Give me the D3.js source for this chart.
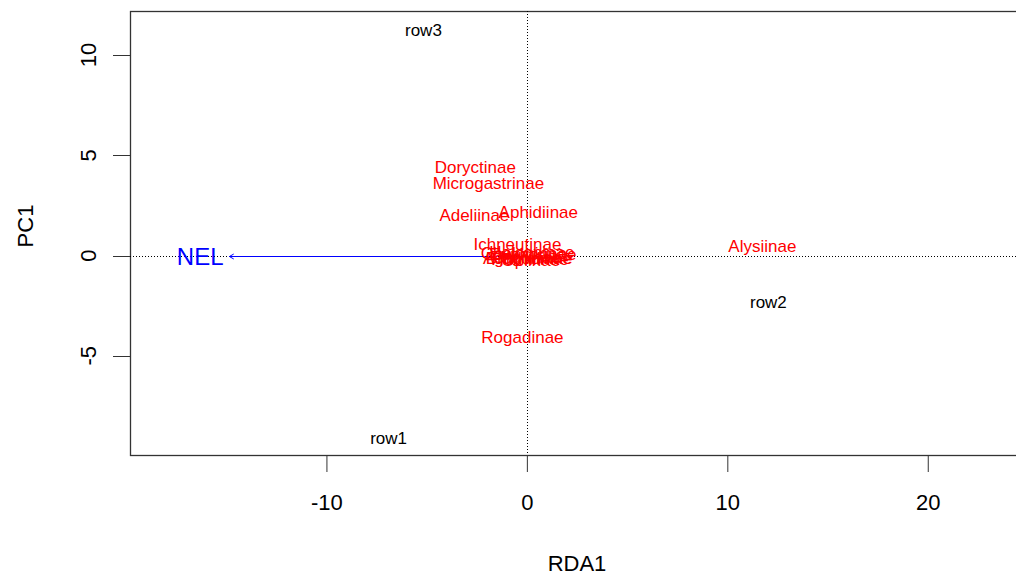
<!DOCTYPE html>
<html><head><meta charset="utf-8">
<script src="https://cdn.jsdelivr.net/npm/d3@7"></script>
<style>body{margin:0;background:#fff}svg{display:block}text{font-family:"Liberation Sans",Arial,sans-serif}</style>
</head><body>
<svg id="c" width="1016" height="576"></svg>
<script>
const siteNames = ["row1","row2","row3"];
const siteX = [-6.9, 12.05, -5.16];
const siteY = [-9.1, -2.34, 11.24];

const speciesNames = ["Doryctinae","Microgastrinae","Adeliinae","Aphidiinae","Ichneutinae","Alysiinae","Rogadinae",
  "Braconinae","Cheloninae","Euphorinae","Opiinae","Helconinae","Orgilinae","Hormiinae","Agathidinae"];
const speciesX = [-2.57,-1.92,-2.62,0.57,-0.47,11.75,-0.22, 0.1,-0.15,0.3,0.2,0.25,0.0,0.15,0.05];
const speciesY = [4.43,3.63,2.04,2.19,0.55,0.45,-4.08, -0.1,0.1,0.05,-0.2,0.15,-0.05,-0.15,-0.1];

const envNames = ["NEL"];
const envX = [-14.84];
const envY = [0];
const envLabelX = [-16.3];
const envLabelY = [-0.05];

const xTicks = [-10,0,10,20];
const yTicks = [-5,0,5,10];

const svg = d3.select("#c");
const L=130, T=11, R=1040, B=455;
const x = d3.scaleLinear().domain([-19.8, 25.6]).range([L, R]);
const y = d3.scaleLinear().domain([-9.95, 12.2]).range([B, T]);
const fmt = d => String(d);
const cy = v => Math.round(y(v)) + 0.5;
const cx = v => Math.round(x(v)) + 0.5;

svg.append("rect").attr("x",L+0.5).attr("y",T+0.5).attr("width",R-L).attr("height",B-T)
  .attr("fill","none").attr("stroke","#333").attr("stroke-width",1.3);

// axes
const xa = svg.append("g").attr("transform",`translate(0,${B})`)
  .call(d3.axisBottom(x).tickValues(xTicks).tickSize(17).tickPadding(22).tickFormat(fmt));
xa.select(".domain").remove();
xa.selectAll("text").attr("font-size",22).attr("fill","#000").style("font-family","Liberation Sans, Arial");
xa.selectAll("line").attr("stroke","#333");

const ya = svg.append("g").attr("transform",`translate(${L},0)`)
  .call(d3.axisLeft(y).tickValues(yTicks).tickSize(17).tickFormat(fmt));
ya.select(".domain").remove();
ya.selectAll("line").attr("stroke","#333");
ya.selectAll("text").attr("font-size",22).attr("fill","#000").style("font-family","Liberation Sans, Arial")
  .attr("x",0).attr("dy",0).attr("text-anchor","middle")
  .attr("transform",d=>`translate(-42,${y(d)}) rotate(-90)`).attr("y",8);
ya.selectAll(".tick").attr("transform",null);
ya.selectAll(".tick line").attr("y1",d=>cy(d)).attr("y2",d=>cy(d));

svg.append("text").attr("x",577).attr("y",571).attr("text-anchor","middle").attr("font-size",22).text("RDA1");
svg.append("text").attr("transform","translate(33,226) rotate(-90)").attr("text-anchor","middle").attr("font-size",22).text("PC1");

// dotted zero lines
svg.append("line").attr("x1",cx(0)).attr("x2",cx(0)).attr("y1",T).attr("y2",B)
  .attr("stroke","#000").attr("stroke-width",1).attr("stroke-dasharray","1,2");
svg.append("line").attr("x1",L).attr("x2",R).attr("y1",cy(0)).attr("y2",cy(0))
  .attr("stroke","#000").attr("stroke-width",1).attr("stroke-dasharray","1,2");

// sites
svg.selectAll(".site").data(siteNames).enter().append("text")
  .attr("x",(d,i)=>x(siteX[i])).attr("y",(d,i)=>y(siteY[i])).attr("dy","0.35em")
  .attr("text-anchor","middle").attr("font-size",17).attr("fill","#000").text(d=>d);

// env arrow
envNames.forEach((n,i)=>{
  const x0=x(0), y0=cy(0), x1=x(envX[i]), y1=cy(envY[i]);
  svg.append("line").attr("x1",x0).attr("y1",y0).attr("x2",x1).attr("y2",y1).attr("stroke","#0000ff").attr("stroke-width",1);
  const ang=Math.atan2(y1-y0,x1-x0), len=5, a=Math.PI/6;
  const p = `M${x1-len*Math.cos(ang-a)},${y1-len*Math.sin(ang-a)}L${x1},${y1}L${x1-len*Math.cos(ang+a)},${y1-len*Math.sin(ang+a)}`;
  svg.append("path").attr("d",p).attr("fill","none").attr("stroke","#0000ff").attr("stroke-width",1);
  svg.append("text").attr("x",x(envLabelX[i])).attr("y",y(envLabelY[i])).attr("dy","0.35em")
    .attr("text-anchor","middle").attr("font-size",24).attr("fill","#0000ff").text(n);
});

// species
svg.selectAll(".sp").data(speciesNames).enter().append("text")
  .attr("x",(d,i)=>x(speciesX[i])).attr("y",(d,i)=>y(speciesY[i])).attr("dy","0.35em")
  .attr("text-anchor","middle").attr("font-size",17).attr("fill","#ff0000").text(d=>d);
</script>
</body></html>
